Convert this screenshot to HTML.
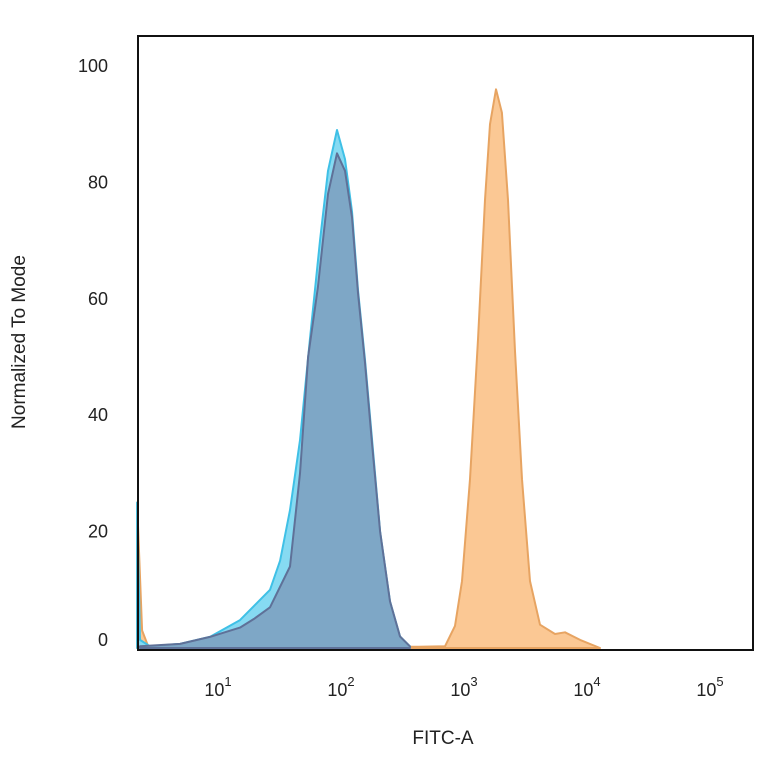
<!DOCTYPE html>
<html><head><meta charset="utf-8"><style>
body{margin:0;background:#fff;}
svg text{font-family:"Liberation Sans",sans-serif;fill:#222;}
</style></head><body>
<svg id="chart" width="764" height="764" viewBox="0 0 764 764" xmlns="http://www.w3.org/2000/svg">
<g id="series"></g>
<rect x="138" y="36" width="615" height="614" fill="none" stroke="#111" stroke-width="2"/>
<g id="axes"></g>
<text x="443" y="744" font-size="19" text-anchor="middle">FITC-A</text>
<text transform="translate(25,342) rotate(-90)" font-size="19" text-anchor="middle">Normalized To Mode</text>
</svg>
<script>
const yTicks=[0,20,40,60,80,100];
const xTickExps=[1,2,3,4,5];
const cyanX=[0.31,0.333,0.415,0.659,0.902,1.146,1.268,1.390,1.472,1.553,1.634,1.715,1.797,1.862,1.935,2.0,2.057,2.106,2.163,2.220,2.285,2.366,2.447,2.528];
const cyanV=[25,1.4,0.3,0.7,1.9,4.8,7.4,10,15,23.7,35.7,53,70,82,89,84,75,61.5,49.5,35.7,20,8,2,0.3];
const blueX=[0.333,0.659,0.902,1.146,1.260,1.390,1.553,1.634,1.700,1.780,1.862,1.935,2.0,2.057,2.106,2.163,2.220,2.285,2.366,2.447,2.528];
const blueV=[0.3,0.7,1.9,3.5,5,7,14,30,50,62,78,85,82,74,61,49,35,20,8,2,0.3];
const orangeX=[0.31,0.35,0.40,0.70,0.98,1.2,1.41,1.55,1.70,1.9,2.2,2.6,2.813,2.894,2.951,3.016,3.081,3.138,3.179,3.228,3.276,3.325,3.382,3.439,3.504,3.585,3.707,3.789,3.911,4.073];
const orangeV=[25,3,0.3,0.3,1,2.5,4.5,3.2,1.2,0.4,0.2,0.2,0.3,3.8,11.5,29,53,77,90,96,92,77,51,29,11.5,4,2.4,2.7,1.4,0];
const X0=222,DEC=123,Y0=648,PY=5.82;
function xs(l){return X0+(l-1)*DEC;}
function ys(v){return Y0-v*PY;}
const NS="http://www.w3.org/2000/svg";
function area(xArr,vArr,fill,stroke,name){
  let d="M"+xs(xArr[0]).toFixed(1)+","+Y0;
  for(let i=0;i<xArr.length;i++)d+=" L"+xs(xArr[i]).toFixed(1)+","+ys(vArr[i]).toFixed(1);
  d+=" L"+xs(xArr[xArr.length-1]).toFixed(1)+","+Y0+" Z";
  const p=document.createElementNS(NS,"path");
  p.setAttribute("d",d);p.setAttribute("fill",fill);p.setAttribute("stroke",stroke);p.setAttribute("stroke-width","2");p.setAttribute("stroke-linejoin","round");
  
  
  document.getElementById("series").appendChild(p);
}
area(orangeX,orangeV,"#fbc894","#e7a462","orange-histogram");
area(cyanX,cyanV,"#86daf2","#3fc0e6","cyan-histogram");
area(blueX,blueV,"rgba(125,158,190,0.85)","#5f7198","blue-histogram");
const ax=document.getElementById("axes");
yTicks.forEach(v=>{
  const t=document.createElementNS(NS,"text");
  t.setAttribute("x","108");t.setAttribute("y",(ys(v)+6-(v===0?8:0)).toFixed(1));
  t.setAttribute("font-size","18");t.setAttribute("text-anchor","end");
  t.textContent=v;
  
  
  ax.appendChild(t);
});
xTickExps.forEach(e=>{
  const t=document.createElementNS(NS,"text");
  t.setAttribute("x",(xs(e)-4).toFixed(1));t.setAttribute("y","696");
  t.setAttribute("font-size","18");t.setAttribute("text-anchor","middle");
  t.innerHTML='10<tspan dy="-10" font-size="13">'+e+'</tspan>';
  
  
  ax.appendChild(t);
});
</script>
</body></html>
